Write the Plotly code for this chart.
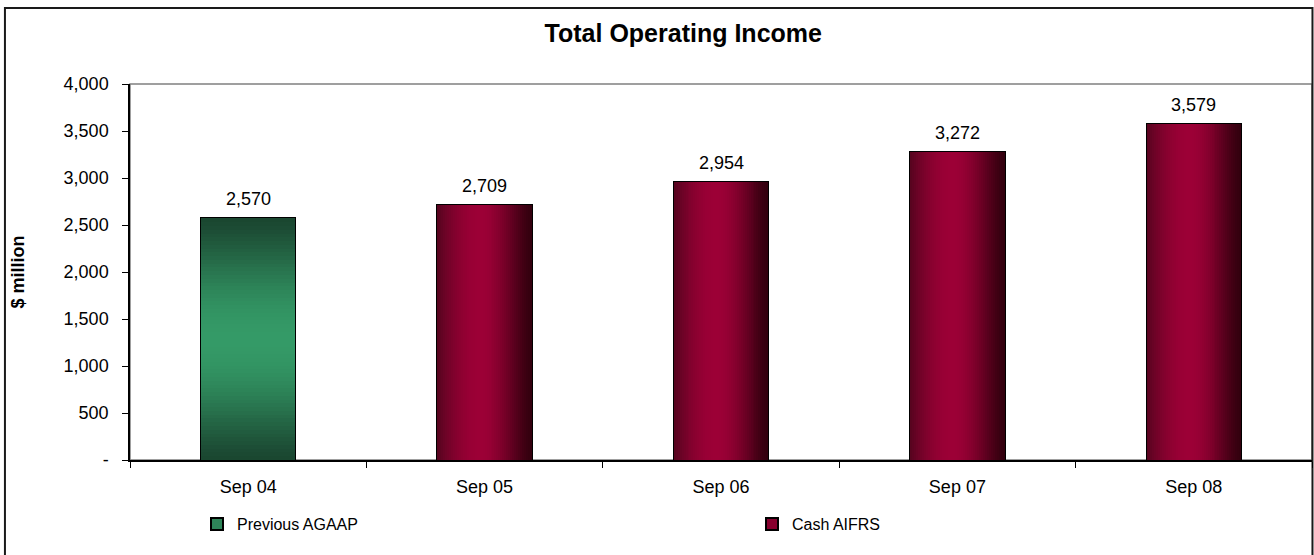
import math
import plotly.graph_objects as go

# ---- data -------------------------------------------------------------
categories = ["Sep 04", "Sep 05", "Sep 06", "Sep 07", "Sep 08"]
values = [2570, 2709, 2954, 3272, 3579]
series_names = ["Previous AGAAP", "Cash AIFRS"]
series_of_bar = [0, 1, 1, 1, 1]          # index into series_names
y_tick_values = [0, 500, 1000, 1500, 2000, 2500, 3000, 3500, 4000]
y_tick_labels = ["-", "500", "1,000", "1,500", "2,000", "2,500", "3,000", "3,500", "4,000"]

# ---- styling ----------------------------------------------------------
FONT = "Liberation Sans, Arial, sans-serif"
BAR_W = 0.40
N_STRIPS = 48        # horizontal shading strips for crimson bars
N_BANDS = 64         # vertical shading bands for the green bar

GREEN_DARK = (26, 70, 48)
GREEN_LIGHT = (52, 154, 103)
RED_LIGHT = (156, 0, 54)
RED_LEFT = (84, 4, 30)
RED_RIGHT = (50, 0, 14)


def mix(a, b, s):
    return "rgb(%d,%d,%d)" % tuple(round(a[i] + (b[i] - a[i]) * s) for i in range(3))


def green_shade(t):
    s = math.sin(math.pi * t) ** 1.3
    return mix(GREEN_DARK, GREEN_LIGHT, s)


def red_shade(t):
    peak = 0.45
    if t <= peak:
        u = t / peak
        return mix(RED_LEFT, RED_LIGHT, math.sin(math.pi / 2 * u) ** 0.9)
    u = (1 - t) / (1 - peak)
    return mix(RED_RIGHT, RED_LIGHT, math.sin(math.pi / 2 * u) ** 1.4)


fig = go.Figure()

# base bars: solid fill + outline, also provide the legend entries
legend_colors = [mix(GREEN_DARK, GREEN_LIGHT, 0.75), mix(RED_RIGHT, RED_LIGHT, 0.8)]
for si, name in enumerate(series_names):
    xs = [c for c, s in zip(categories, series_of_bar) if s == si]
    ys = [v for v, s in zip(values, series_of_bar) if s == si]
    fig.add_trace(go.Bar(
        x=xs, y=ys, name=name, width=BAR_W,
        marker=dict(color=legend_colors[si], line=dict(color="#000000", width=2)),
        legend="legend" if si == 0 else "legend2",
        hoverinfo="skip",
    ))

# green bar: stacked horizontal bands shaded top/bottom dark, middle light
gx, gy, gbase, gcol = [], [], [], []
for c, v, s in zip(categories, values, series_of_bar):
    if s != 0:
        continue
    for k in range(N_BANDS):
        t = (k + 0.5) / N_BANDS
        gx.append(c)
        gy.append(v / N_BANDS)
        gbase.append(v * k / N_BANDS)
        gcol.append(green_shade(t))
fig.add_trace(go.Bar(
    x=gx, y=gy, base=gbase, width=BAR_W,
    marker=dict(color=gcol, line=dict(width=0)),
    showlegend=False, hoverinfo="skip",
))

# crimson bars: vertical strips shaded dark at the sides
rx, ry, roff, rcol = [], [], [], []
sw = BAR_W / N_STRIPS
for c, v, s in zip(categories, values, series_of_bar):
    if s != 1:
        continue
    for k in range(N_STRIPS):
        t = (k + 0.5) / N_STRIPS
        rx.append(c)
        ry.append(v)
        roff.append(-BAR_W / 2 + k * sw)
        rcol.append(red_shade(t))
fig.add_trace(go.Bar(
    x=rx, y=ry, offset=roff, width=sw * 1.02,
    marker=dict(color=rcol, line=dict(width=0)),
    showlegend=False, hoverinfo="skip",
))

# value labels above each bar
for c, v in zip(categories, values):
    fig.add_annotation(
        x=c, y=v, text=f"{v:,}", showarrow=False,
        yanchor="bottom", yshift=7,
        font=dict(family=FONT, size=18, color="#000000"),
    )

# plot-area frame (grey top/right) and outer chart border
fig.add_shape(type="rect", xref="paper", yref="paper", x0=0, x1=1, y0=0, y1=1,
              line=dict(color="#808080", width=1.5), layer="below")
fig.add_shape(type="rect", xref="paper", yref="paper",
              x0=-0.1058, x1=1.0004, y0=-0.3, y1=1.202,
              line=dict(color="#1a1a1a", width=2), layer="below")

fig.update_layout(
    width=1314, height=555,
    margin=dict(l=130, r=2, t=84, b=95),
    paper_bgcolor="#ffffff", plot_bgcolor="#ffffff",
    barmode="overlay",
    bargap=0,
    font=dict(family=FONT, size=18, color="#000000"),
    title=dict(text="<b>Total Operating Income</b>", x=0.52, xanchor="center",
               y=0.94, yanchor="middle", font=dict(family=FONT, size=25, color="#000000")),
    xaxis=dict(
        type="category", range=[-0.5, 4.5],
        showline=True, linecolor="#000000", linewidth=1.5,
        ticks="outside", tickson="boundaries", ticklen=6, tickcolor="#000000",
        showgrid=False, zeroline=False,
        tickfont=dict(family=FONT, size=18), ticklabelstandoff=10,
    ),
    yaxis=dict(
        range=[0, 4000],
        tickvals=y_tick_values, ticktext=y_tick_labels,
        showline=True, linecolor="#000000", linewidth=1.5,
        ticks="outside", ticklen=6, tickcolor="#000000",
        showgrid=False, zeroline=False,
        tickfont=dict(family=FONT, size=18), ticklabelstandoff=10,
        title=dict(text="<b>$ million</b>", font=dict(family=FONT, size=18), standoff=34),
    ),
    legend=dict(orientation="h", x=(197 - 130) / 1182, y=(460 - 524) / 376,
                xanchor="left", yanchor="middle", bgcolor="rgba(0,0,0,0)",
                font=dict(family=FONT, size=16), itemwidth=30),
    legend2=dict(orientation="h", x=(752 - 130) / 1182, y=(460 - 524) / 376,
                 xanchor="left", yanchor="middle", bgcolor="rgba(0,0,0,0)",
                 font=dict(family=FONT, size=16), itemwidth=30),
)

fig.write_html("out.html")
